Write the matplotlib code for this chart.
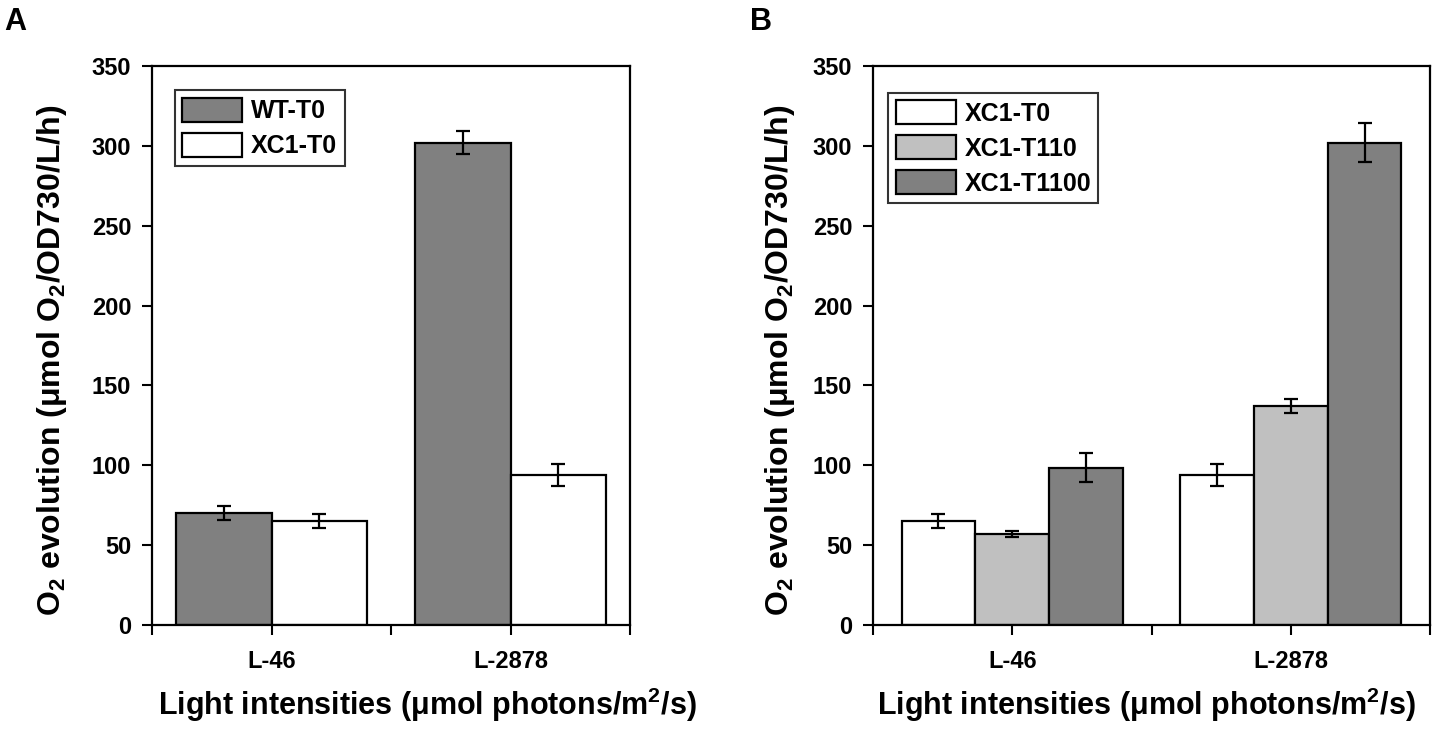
import matplotlib
matplotlib.use("Agg")
import matplotlib.pyplot as plt
import numpy as np

plt.rcParams['font.family'] = ['Liberation Sans', 'DejaVu Sans']
plt.rcParams['font.weight'] = 'bold'
plt.rcParams['mathtext.fontset'] = 'custom'
plt.rcParams['mathtext.rm'] = 'Liberation Sans:bold'
plt.rcParams['mathtext.bf'] = 'Liberation Sans:bold'
plt.rcParams['mathtext.default'] = 'bf'

categories = ['L-46', 'L-2878']

# panel A
a_labels = ['WT-T0', 'XC1-T0']
a_values = [[70, 302], [65, 94]]
a_errors = [[4.2, 7.3], [4.2, 6.8]]
a_colors = ['#808080', '#ffffff']

# panel B
b_labels = ['XC1-T0', 'XC1-T110', 'XC1-T1100']
b_values = [[65, 94], [57, 137], [98.5, 302]]
b_errors = [[4.3, 6.8], [1.8, 4.3], [8.9, 12]]
b_colors = ['#ffffff', '#c0c0c0', '#808080']

ylab = r'O$_2$ evolution ($\mu$mol O$_2$/OD730/L/h)'
xlab = r'Light intensities ($\mu$mol photons/m$^2$/s)'

fig = plt.figure(figsize=(14.49, 7.32), dpi=100)
W, H = 1449, 732
axA = fig.add_axes([152 / W, 1 - 625 / H, (630 - 152) / W, (625 - 66) / H])
axB = fig.add_axes([873 / W, 1 - 625 / H, (1430 - 873) / W, (625 - 66) / H])


def draw(ax, labels, values, errors, colors, width, anchor):
    x = np.arange(1, len(categories) + 1)
    n = len(labels)
    for i in range(n):
        off = (i - (n - 1) / 2) * width
        ax.bar(x + off, values[i], width, color=colors[i], edgecolor='black',
               linewidth=1.6, label=labels[i], zorder=2)
        ax.errorbar(x + off, values[i], yerr=errors[i], fmt='none', ecolor='black',
                    elinewidth=1.6, capsize=5, capthick=1.6, zorder=3)
    ax.set_xlim(0.5, 2.5)
    ax.set_ylim(0, 350)
    ax.set_yticks(np.arange(0, 351, 50))
    ax.set_xticks(x)
    ax.set_xticklabels(categories)
    ax.set_xticks([0.5, 1.5, 2.5], minor=True)
    ax.tick_params(axis='y', which='major', direction='out', length=7, width=1.5,
                   pad=8, labelsize=17)
    ax.tick_params(axis='x', which='major', direction='out', length=7, width=1.5,
                   pad=11, labelsize=17)
    ax.tick_params(axis='x', which='minor', direction='out', length=7, width=1.5)
    for lab in ax.get_xticklabels() + ax.get_yticklabels():
        lab.set_fontweight('bold')
    for s in ax.spines.values():
        s.set_linewidth(1.6)
    leg = ax.legend(loc='upper left', bbox_to_anchor=anchor, fontsize=18,
                    frameon=True, fancybox=False, edgecolor='black',
                    handlelength=2.4, handleheight=1.1, labelspacing=0.38,
                    handletextpad=0.35, borderpad=0.3, borderaxespad=0)
    leg.get_frame().set_linewidth(1.5)
    for p in leg.get_patches():
        p.set_linewidth(1.6)


draw(axA, a_labels, a_values, a_errors, a_colors, 0.4, (0.048, 0.957))
draw(axB, b_labels, b_values, b_errors, b_colors, 0.265, (0.027, 0.952))

fig.text(52 / W, 1 - 360 / H, ylab, rotation=90, ha='center', va='center', fontsize=23)
fig.text(780 / W, 1 - 360 / H, ylab, rotation=90, ha='center', va='center', fontsize=23)
fig.text(427 / W, 1 - 705 / H, xlab, ha='center', va='center', fontsize=22)
fig.text(1146 / W, 1 - 705 / H, xlab, ha='center', va='center', fontsize=22)

fig.text(4 / W, 1 - 22 / H, 'A', ha='left', va='center', fontsize=22, fontweight='bold')
fig.text(750 / W, 1 - 22 / H, 'B', ha='left', va='center', fontsize=22, fontweight='bold')

fig.savefig('out.png', dpi=100)
